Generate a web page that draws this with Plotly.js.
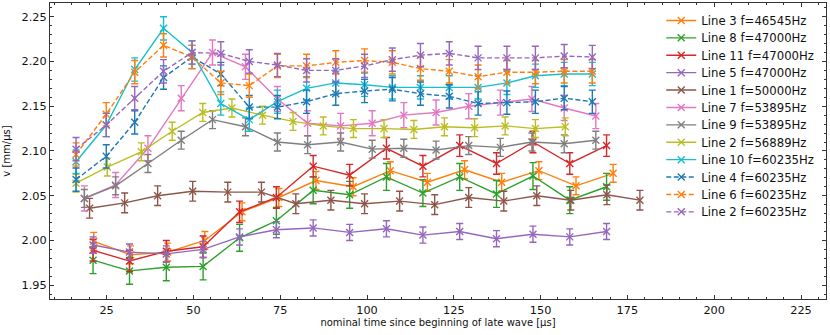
<!DOCTYPE html>
<html>
<head>
<meta charset="utf-8">
<script src="https://cdn.plot.ly/plotly-3.0.1.min.js"></script>
<style>
  body { margin: 0; background: #fff; }
  #velocityGraph { width: 830px; height: 335px; }
</style>
</head>
<body>
<div id="velocityGraph"></div>
<script>
// times [us] and velocities [mm/us]
const tLine3 = [21.3, 31.9, 42.6, 53.3, 64.0, 74.6, 85.3, 96.0, 106.7, 117.4, 128.1, 138.8, 149.5, 160.2, 170.9]
const vLine3 = [1.999, 1.984, 1.987, 2.000, 2.032, 2.048, 2.067, 2.060, 2.078, 2.065, 2.079, 2.065, 2.078, 2.061, 2.075]

const tLow = [21.1, 31.6, 42.2, 52.8, 63.3, 73.9, 84.5, 95.0, 105.6, 116.1, 126.7, 137.3, 147.8, 158.4, 169.0]
const vLine8 = [1.978, 1.966, 1.970, 1.971, 2.003, 2.022, 2.056, 2.051, 2.071, 2.053, 2.071, 2.052, 2.072, 2.045, 2.060]
const vLine11 = [1.989, 1.977, 1.988, 1.993, 2.032, 2.048, 2.083, 2.073, 2.103, 2.083, 2.106, 2.086, 2.110, 2.086, 2.106]
const vLine5 = [1.995, 1.987, 1.985, 1.990, 2.004, 2.012, 2.014, 2.009, 2.013, 2.006, 2.010, 2.002, 2.007, 2.004, 2.010]

const tLine1 = [20.1, 30.2, 39.7, 49.8, 59.9, 69.6, 79.5, 89.6, 99.3, 109.4, 119.5, 129.3, 139.4, 148.9, 158.7, 169.1, 178.6]
const vLine1 = [2.036, 2.042, 2.050, 2.055, 2.054, 2.054, 2.041, 2.045, 2.041, 2.044, 2.040, 2.048, 2.044, 2.050, 2.045, 2.051, 2.045]

const tMid = [18.6, 27.6, 36.9, 46.5, 55.5, 65.0, 74.2, 82.9, 92.4, 101.5, 110.6, 119.9, 129.3, 138.4, 147.5, 156.8, 165.9]
const vLine7 = [2.047, 2.062, 2.103, 2.159, 2.210, 2.194, 2.158, 2.131, 2.128, 2.131, 2.140, 2.143, 2.150, 2.154, 2.158, 2.148, 2.139]
const vLine9 = [2.047, 2.061, 2.086, 2.112, 2.135, 2.127, 2.110, 2.107, 2.110, 2.102, 2.103, 2.101, 2.106, 2.104, 2.110, 2.108, 2.112]

const tLine2 = [16.2, 25.2, 35.0, 43.9, 52.7, 61.1, 69.9, 78.7, 87.4, 96.1, 104.9, 113.5, 122.3, 131.0, 139.8, 148.5, 157.1]
const vLine2 = [2.064, 2.082, 2.099, 2.122, 2.143, 2.148, 2.140, 2.133, 2.128, 2.125, 2.125, 2.124, 2.127, 2.126, 2.128, 2.125, 2.127]

const tHigh = [16.2, 24.9, 33.1, 41.4, 49.6, 57.9, 66.1, 74.2, 82.6, 91.0, 99.3, 107.3, 115.4, 123.7, 132.0, 140.3, 148.5, 156.8, 164.9]
const vLine10 = [2.088, 2.129, 2.191, 2.237, 2.210, 2.153, 2.135, 2.155, 2.170, 2.176, 2.174, 2.171, 2.171, 2.171, 2.171, 2.176, 2.184, 2.186, 2.186]
const vLine4 = [2.068, 2.094, 2.132, 2.182, 2.205, 2.186, 2.149, 2.149, 2.155, 2.164, 2.167, 2.169, 2.164, 2.161, 2.153, 2.154, 2.155, 2.159, 2.155]
const vLine6 = [2.096, 2.141, 2.188, 2.218, 2.205, 2.176, 2.173, 2.195, 2.195, 2.199, 2.201, 2.199, 2.192, 2.189, 2.183, 2.188, 2.188, 2.189, 2.189]
const vLine2b = [2.102, 2.129, 2.159, 2.189, 2.210, 2.209, 2.200, 2.196, 2.190, 2.190, 2.195, 2.202, 2.207, 2.209, 2.204, 2.204, 2.204, 2.206, 2.205]

const names = [
  'Line 3 f=46545Hz', 'Line 8 f=47000Hz', 'Line 11 f=47000Hz', 'Line 5 f=47000Hz',
  'Line 1 f=50000Hz', 'Line 7 f=53895Hz', 'Line 9 f=53895Hz', 'Line 2 f=56889Hz',
  'Line 10 f=60235Hz', 'Line 4 f=60235Hz', 'Line 6 f=60235Hz', 'Line 2 f=60235Hz',
]
const errs = [0.010, 0.015, 0.012, 0.009, 0.011, 0.014, 0.010, 0.010, 0.013, 0.013, 0.013, 0.013]

// matplotlib-ish dashes rather than plotly's long 'dash'
const mplDash = '5px,2.5px'

const series = [
  [tLine3, vLine3, '#ff7f0e', 'solid'],
  [tLow, vLine8, '#2ca02c', 'solid'],
  [tLow, vLine11, '#d62728', 'solid'],
  [tLow, vLine5, '#9467bd', 'solid'],
  [tLine1, vLine1, '#8c564b', 'solid'],
  [tMid, vLine7, '#e377c2', 'solid'],
  [tMid, vLine9, '#7f7f7f', 'solid'],
  [tLine2, vLine2, '#bcbd22', 'solid'],
  [tHigh, vLine10, '#17becf', 'solid'],
  [tHigh, vLine4, '#1f77b4', mplDash],
  [tHigh, vLine6, '#ff7f0e', mplDash],
  [tHigh, vLine2b, '#9467bd', mplDash],
]

const font = 'DejaVu Sans, sans-serif'

const viewData = series.map(([x, y, color, dash], i) => ({
  x: x,
  y: y,
  name: names[i],
  type: 'scatter',
  mode: 'lines+markers',
  line: { color: color, width: 1.4, dash: dash },
  marker: { symbol: 'x-thin', size: 7, color: color, line: { width: 1.4, color: color } },
  error_y: { type: 'constant', value: errs[i], color: color, thickness: 1.4, width: 3.5 },
}))

const axisStyle = {
  showline: true,
  linecolor: '#333',
  linewidth: 1,
  mirror: 'allticks',
  ticks: 'inside',
  ticklen: 4,
  tickcolor: '#333',
  showgrid: false,
  zeroline: false,
  tickfont: { family: font, size: 11.3, color: '#111' },
}

const layout = {
  width: 830,
  height: 335,
  margin: { t: 3, b: 36, l: 50, r: 4 },
  paper_bgcolor: '#fff',
  plot_bgcolor: '#fff',
  font: { family: font, size: 11, color: '#111' },
  showlegend: true,
  legend: {
    x: 0.7877, y: 0.99, xanchor: 'left', yanchor: 'top',
    bgcolor: 'rgba(255,255,255,0)',
    font: { family: font, size: 11.7, color: '#111' },
  },
  xaxis: Object.assign({}, axisStyle, {
    range: [8.7, 232.2],
    dtick: 25,
    tick0: 0,
    minor: { ticks: 'inside', ticklen: 2, dtick: 5, tickcolor: '#333' },
    title: { text: 'nominal time since beginning of late wave [μs]', standoff: 3, font: { family: font, size: 10 } },
  }),
  yaxis: Object.assign({}, axisStyle, {
    range: [1.9346, 2.2653],
    dtick: 0.05,
    tick0: 0,
    tickformat: '.2f',
    minor: { ticks: 'inside', ticklen: 2, dtick: 0.01, tickcolor: '#333' },
    title: { text: 'v [mm/μs]', standoff: 9, font: { family: font, size: 10 } },
  }),
}

// plotly won't pack legend rows tighter than ~19px, matplotlib's are ~17.4
const tightenLegend = (gd, step) => {
  const items = gd.querySelectorAll('.legend .traces')
  let y0 = null
  items.forEach((el) => {
    const m = /translate\(([-\d.]+),\s*([-\d.]+)\)/.exec(el.getAttribute('transform') || '')
    if (!m) return
    if (y0 === null) y0 = parseFloat(m[2])
    const i = Array.prototype.indexOf.call(items, el)
    el.setAttribute('transform', `translate(${m[1]},${y0 + i * step})`)
  })
}

Plotly.newPlot('velocityGraph', viewData, layout, { responsive: false, displayModeBar: false })
  .then((gd) => tightenLegend(gd, 17.4))
</script>
</body>
</html>
